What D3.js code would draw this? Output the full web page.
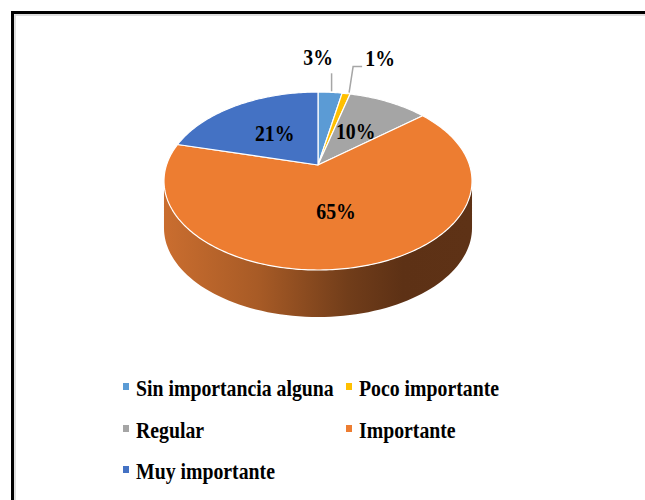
<!DOCTYPE html>
<html>
<head>
<meta charset="utf-8">
<script src="https://cdn.jsdelivr.net/npm/d3@7"></script>
<style>
  body { margin: 0; background: #fff; }
  svg { display: block; }
  text { font-family: "Liberation Serif", "Times New Roman", serif; font-weight: bold; fill: #000; }
</style>
</head>
<body>
<div id="chart"></div>
<script>
// data
var categories = ["Sin importancia alguna", "Poco importante", "Regular", "Importante", "Muy importante"];
var values = [3, 1, 10, 65, 21];
var labels = ["3%", "1%", "10%", "65%", "21%"];
var colors = ["#5B9BD5", "#FFC000", "#A5A5A5", "#ED7D31", "#4472C4"];

var width = 645, height = 500;

// 3d pie geometry (perspective tilt)
var cx = 318, cy = 165, A = 151.5, B = 86.1, persp = 0.18, depth = 47;

function proj(theta, f, drop) {
    var u = Math.sin(theta) * f, v = Math.cos(theta) * f;
    var w = 1 + persp * v;
    return [cx + A * u / w, cy - B * v / w + (drop || 0)];
}

var svg = d3.select('#chart')
    .append('svg')
    .attr('width', width)
    .attr('height', height);

svg.append('rect')
    .attr('width', width)
    .attr('height', height)
    .style('fill', '#fff');

// frame
svg.append('rect')
    .attr('x', 15).attr('y', 15)
    .attr('width', 700).attr('height', 600)
    .style('fill', 'none').style('stroke', '#d4d4d4').style('stroke-width', 1.5);
svg.append('rect')
    .attr('x', 12.5).attr('y', 12.5)
    .attr('width', 700).attr('height', 600)
    .style('fill', 'none').style('stroke', '#000').style('stroke-width', 3);

var pie = d3.pie().sort(null).value(function(d) { return d; });
var arcs = pie(values);

var lineGen = d3.line();
var shapeGen = d3.line().curve(d3.curveLinearClosed);

// side gradient
var grad = svg.append('defs').append('linearGradient')
    .attr('id', 'side')
    .attr('gradientUnits', 'userSpaceOnUse')
    .attr('x1', cx - A).attr('x2', cx + A).attr('y1', 0).attr('y2', 0);
[[0, '#C96D2F'], [0.3, '#A85B26'], [0.6, '#713D1A'], [0.78, '#5D3115'], [1, '#5E3216']].forEach(function(s) {
    grad.append('stop').attr('offset', s[0]).attr('stop-color', s[1]);
});

// visible side range: where outline is the silhouette
var thR = Math.acos(-persp), thL = 2 * Math.PI - thR;

var sides = svg.append('g');
arcs.forEach(function(d, i) {
    var a0 = Math.max(d.startAngle, thR), a1 = Math.min(d.endAngle, thL);
    if (a1 <= a0) return;
    var n = 80;
    var top = d3.range(n + 1).map(function(k) { return proj(a0 + (a1 - a0) * k / n, 1, 0); });
    var bottom = top.slice().reverse().map(function(p) { return [p[0], p[1] + depth]; });
    sides.append('path')
        .attr('d', shapeGen(top.concat(bottom)))
        .style('fill', 'url(#side)');
});

// top faces
var tops = svg.append('g');
arcs.forEach(function(d, i) {
    var n = Math.max(4, Math.round((d.endAngle - d.startAngle) * 60));
    var pts = [proj(0, 0, 0)].concat(d3.range(n + 1).map(function(k) {
        return proj(d.startAngle + (d.endAngle - d.startAngle) * k / n, 1, 0);
    }));
    tops.append('path')
        .attr('d', shapeGen(pts))
        .style('fill', colors[i])
        .style('stroke', '#fff')
        .style('stroke-width', 1.2)
        .style('stroke-linejoin', 'round');
});

// labels
var sx = 0.86;
function label(x, y, txt, anchor, size) {
    svg.append('text')
        .attr('transform', 'translate(' + x + ',' + y + ') scale(' + sx + ',1)')
        .attr('text-anchor', anchor || 'middle')
        .style('font-size', (size || 23) + 'px')
        .text(txt);
}

// inside labels
[2, 3, 4].forEach(function(i) {
    var d = arcs[i];
    var p = proj((d.startAngle + d.endAngle) / 2, 0.5, 0);
    label(p[0], p[1] + 8, labels[i]);
});

// outside labels with leaders
var leaderColor = '#A6A6A6';
var p0 = proj((arcs[0].startAngle + arcs[0].endAngle) / 2, 1, 0);
svg.append('path')
    .attr('d', lineGen([[p0[0] + 1.5, p0[1] - 1], [p0[0] + 1.5, p0[1] - 19]]))
    .style('fill', 'none').style('stroke', leaderColor).style('stroke-width', 1.5);
label(p0[0] - 12, p0[1] - 27, labels[0]);

var p1 = proj((arcs[1].startAngle + arcs[1].endAngle) / 2, 1, 0);
svg.append('path')
    .attr('d', lineGen([[p1[0] + 3, p1[1] - 1], [p1[0] + 7, p1[1] - 27], [p1[0] + 16, p1[1] - 27]]))
    .style('fill', 'none').style('stroke', leaderColor).style('stroke-width', 1.5);
label(p1[0] + 34, p1[1] - 28, labels[1]);

// legend
var legend = svg.append('g');
var colX = [123, 346], rowY = [396, 438, 479];
categories.forEach(function(c, i) {
    var x = colX[i % 2], y = rowY[Math.floor(i / 2)];
    legend.append('rect')
        .attr('x', x).attr('y', y - 13)
        .attr('width', 6).attr('height', 7)
        .style('fill', colors[i]);
    legend.append('text')
        .attr('transform', 'translate(' + (x + 13) + ',' + y + ') scale(' + sx + ',1)')
        .style('font-size', '23px')
        .text(c);
});
</script>
</body>
</html>
